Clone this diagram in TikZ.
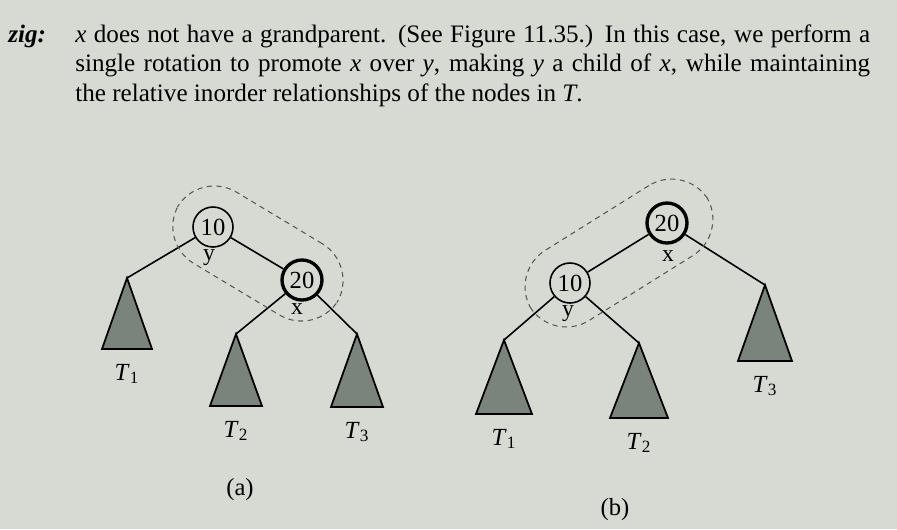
\documentclass[tikz,border=0pt]{standalone}
\usepackage{fontspec}
\setmainfont{Liberation Serif}
\usetikzlibrary{fit}

\definecolor{page}{RGB}{214,218,211}
\definecolor{treegray}{RGB}{122,132,124}
\definecolor{zonegray}{RGB}{85,88,85}

\begin{document}
\begin{tikzpicture}[x=0.02cm,y=-0.02cm,
        key/.style={circle,draw,line width=0.9pt,fill=page,inner sep=0pt,
            minimum size=0.8cm,font=\fontsize{14}{16}\selectfont},
        cur/.style={key,line width=1.9pt},
        tag/.style={inner sep=0pt,font=\fontsize{13.5}{15}\selectfont},
        edge/.style={line width=0.9pt},
        subtree/.style={draw,line width=1pt,fill=treegray},
        zone/.style={draw,zonegray,line width=0.6pt,dash pattern=on 3pt off 2.5pt,
            rounded corners=0.86cm,inner ysep=0.46cm},
        body/.style={anchor=base west,inner sep=0pt,
            font=\fontsize{14.3}{16}\selectfont}]
        \fill[page] (0,0) rectangle (897,529);

        % text above the figure
        \node[body] (zig) at (8,42) {\textbf{\textit{zig:}}};
        \node[body] (line1) at (75,42) {\makebox[15.9cm][s]{\textit{x} does not have a grandparent. (See Figure 11.35.) In this case, we perform a}};
        \node[body] (line2) at (75,71) {\makebox[15.9cm][s]{single rotation to promote \textit{x} over \textit{y}, making \textit{y} a child of \textit{x}, while maintaining}};
        \node[body] (line3) at (75,101) {the relative inorder relationships of the nodes in \textit{T}.};

        % (a) before the rotation
        \node[key] (a10) at (213,227) {10};
        \node[cur] (a20) at (302,280) {20};
        \node[tag] (ay) at (209,258) {y};
        \node[tag] (ax) at (297,309) {x};

        % (b) after the rotation
        \node[cur] (b20) at (667,223) {20};
        \node[key] (b10) at (570,283) {10};
        \node[tag] (bx) at (668,256) {x};
        \node[tag] (by) at (568,314) {y};

        \foreach \n/\x/\y/\w/\h/\l in {at1/127/278/25/71/1, at2/236/334/26/72/2,
            at3/357/334/26/73/3, bt1/504/340/28/74/1, bt2/639/343/29/75/2,
            bt3/765/285/27/76/3} {
            \coordinate (\n) at (\x,\y);
            \draw[subtree] (\n) -- ++(-\w,\h) -- ++(2*\w,0) -- cycle;
            \node[tag,font=\fontsize{14}{16}\selectfont] (\n l) at (\x,{\y+\h+25}) {\textit{T}\textsubscript{\l}};
        }

        \draw[edge] (a10) -- (a20);
        \draw[edge] (a10) -- (at1);
        \draw[edge] (a20) -- (at2);
        \draw[edge] (a20) -- (at3);
        \draw[edge] (b20) -- (b10);
        \draw[edge] (b10) -- (bt1);
        \draw[edge] (b10) -- (bt2);
        \draw[edge] (b20) -- (bt3);

        \node[zone,inner xsep=0.46cm,rotate fit=-31,fit=(a10)(a20)] (aza) {};
        \node[zone,inner xsep=0.58cm,rotate fit=32,fit=(b10)(b20)] (bzb) {};

        \node[tag,font=\fontsize{14}{16}\selectfont] (capa) at (240,490) {(a)};
        \node[tag,font=\fontsize{14}{16}\selectfont] (capb) at (615,510) {(b)};
    \end{tikzpicture}
\end{document}
